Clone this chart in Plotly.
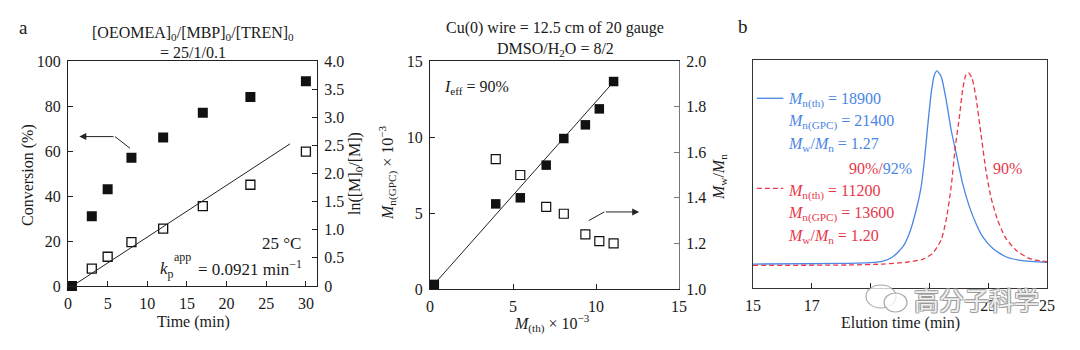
import plotly.graph_objects as go

W, H = 1080, 350
SERIF = "Liberation Serif, Times New Roman, serif"
INK = "#1a1a1a"
BLUE = "#4a86e4"
RED = "#e8384a"

# ---- (a) kinetics of the polymerisation ----
time_min = [0.5, 3, 5, 8, 12, 17, 23, 30]
conversion_pct = [0, 31, 43, 57, 66, 77, 84, 91]
ln_time_min = [3, 5, 8, 12, 17, 23, 30]
ln_m0_over_m = [0.31, 0.52, 0.78, 1.02, 1.42, 1.80, 2.39]
kp_app = 0.0921          # min^-1, slope of the first-order fit
fit_time = [1.1, 28.0]
fit_start = 0.05

# ---- (middle) molecular weight evolution ----
m_th = [0.26, 3.96, 5.44, 7.0, 8.06, 9.36, 10.2, 11.06]
mn_gpc = [0.3, 5.6, 6.0, 8.15, 9.9, 10.8, 11.85, 13.65]
pdi_m_th = [3.96, 5.44, 7.0, 8.06, 9.36, 10.2, 11.06]
pdi = [1.57, 1.50, 1.36, 1.33, 1.24, 1.21, 1.20]
mn_fit_x = [0.26, 11.06]
mn_fit_y = [0.33, 13.63]

# ---- (b) GPC traces ----
blue_t = [15.0, 18.29, 18.97, 19.42, 19.76, 20.10, 20.32, 20.55, 20.72, 20.83, 20.94,
          21.06, 21.17, 21.26, 21.40, 21.57, 21.74, 21.91, 22.13, 22.36, 22.58, 22.81,
          23.15, 23.60, 24.16, 25.0]
blue_s = [0.105, 0.108, 0.111, 0.118, 0.137, 0.181, 0.240, 0.342, 0.444, 0.561, 0.707,
          0.854, 0.934, 0.952, 0.927, 0.825, 0.693, 0.591, 0.459, 0.357, 0.284, 0.225,
          0.174, 0.137, 0.120, 0.113]
red_t = [15.0, 18.29, 19.42, 20.21, 20.77, 21.11, 21.40, 21.57, 21.74, 21.88, 22.02,
         22.13, 22.24, 22.33, 22.45, 22.58, 22.75, 22.92, 23.09, 23.32, 23.60, 23.94,
         24.39, 25.0]
red_s = [0.099, 0.101, 0.105, 0.113, 0.126, 0.152, 0.211, 0.298, 0.444, 0.617, 0.751,
         0.868, 0.934, 0.944, 0.920, 0.839, 0.679, 0.518, 0.400, 0.298, 0.218, 0.167,
         0.130, 0.115]

a_x_ticks = [0, 5, 10, 15, 20, 25, 30]
a_y_ticks = [0, 20, 40, 60, 80, 100]
a_y2_ticks = [0, 0.5, 1.0, 1.5, 2.0, 2.5, 3.0, 3.5, 4.0]
a_y2_text = ["0", "0.5", "1.0", "1.5", "2.0", "2.5", "3.0", "3.5", "4.0"]
m_ticks = [0, 5, 10, 15]
m_y2_ticks = [1.0, 1.2, 1.4, 1.6, 1.8, 2.0]
m_y2_text = ["1.0", "1.2", "1.4", "1.6", "1.8", "2.0"]
b_x_ticks = [15, 17, 19, 21, 23, 25]
b_x_text = ["15", "17", "", "", "23", "25"]   # 19 and 21 sit under the badge


def px(x):
    return x / W


def py(y):
    return 1 - y / H


fig = go.Figure()

# (a)
fig.add_trace(go.Scatter(x=time_min, y=conversion_pct, mode="markers", xaxis="x", yaxis="y",
                         marker=dict(symbol="square", size=10, color="#111"), cliponaxis=False))
fig.add_trace(go.Scatter(x=ln_time_min, y=ln_m0_over_m, mode="markers", xaxis="x", yaxis="y2",
                         marker=dict(symbol="square-open", size=9, color="#111", line=dict(width=1.3)),
                         cliponaxis=False))
fig.add_trace(go.Scatter(x=fit_time, y=[fit_start + kp_app * (t - fit_time[0]) for t in fit_time],
                         mode="lines", xaxis="x", yaxis="y2", line=dict(color="#222", width=1)))
fig.add_trace(go.Scatter(x=[7.82, 5.93], y=[61.2, 66.4], mode="lines", xaxis="x", yaxis="y",
                         line=dict(color="#222", width=1)))

# middle
fig.add_trace(go.Scatter(x=mn_fit_x, y=mn_fit_y, mode="lines", xaxis="x2", yaxis="y3",
                         line=dict(color="#222", width=1)))
fig.add_trace(go.Scatter(x=m_th, y=mn_gpc, mode="markers", xaxis="x2", yaxis="y3",
                         marker=dict(symbol="square", size=9.5, color="#111"), cliponaxis=False))
fig.add_trace(go.Scatter(x=pdi_m_th, y=pdi, mode="markers", xaxis="x2", yaxis="y4",
                         marker=dict(symbol="square-open", size=9, color="#111", line=dict(width=1.2)),
                         cliponaxis=False))
fig.add_trace(go.Scatter(x=[9.56, 10.5], y=[4.5, 5.07], mode="lines", xaxis="x2", yaxis="y3",
                         line=dict(color="#222", width=1)))

# (b)
fig.add_trace(go.Scatter(x=blue_t, y=blue_s, mode="lines", xaxis="x3", yaxis="y5",
                         line=dict(color=BLUE, width=1.3, shape="spline", smoothing=0.6)))
fig.add_trace(go.Scatter(x=red_t, y=red_s, mode="lines", xaxis="x3", yaxis="y5",
                         line=dict(color=RED, width=1.3, dash="5px,3px", shape="spline", smoothing=0.6)))

axis_base = dict(showline=True, linecolor="#222", linewidth=1, ticks="inside", ticklen=5,
                 tickcolor="#222", tickwidth=1, showgrid=False, zeroline=False,
                 tickfont=dict(family=SERIF, size=16, color=INK), fixedrange=True,
                 ticklabelstandoff=3, automargin=False)

fig.update_layout(
    width=W, height=H, margin=dict(l=0, r=0, t=0, b=0, autoexpand=False),
    paper_bgcolor="white", plot_bgcolor="white", showlegend=False,
    font=dict(family=SERIF, size=16, color=INK),
    xaxis=dict(axis_base, domain=[px(68), px(317)], anchor="y", range=[0, 31.4],
               tickvals=a_x_ticks, mirror=True),
    yaxis=dict(axis_base, domain=[py(286), py(61)], anchor="x", range=[0, 100],
               tickvals=a_y_ticks),
    yaxis2=dict(axis_base, overlaying="y", side="right", anchor="x", range=[0, 4],
                tickvals=a_y2_ticks, ticktext=a_y2_text),
    xaxis2=dict(axis_base, domain=[px(430), px(679)], anchor="y3", range=[0, 15],
                tickvals=m_ticks, mirror=True),
    yaxis3=dict(axis_base, domain=[py(289), py(61)], anchor="x2", range=[0, 15],
                tickvals=m_ticks),
    yaxis4=dict(axis_base, overlaying="y3", side="right", anchor="x2", range=[1, 2],
                tickvals=m_y2_ticks, ticktext=m_y2_text, linecolor="#777", tickcolor="#777"),
    xaxis3=dict(axis_base, domain=[px(753), px(1047)], anchor="y5", range=[15, 25],
                tickvals=b_x_ticks, ticktext=b_x_text, mirror=True, linecolor="#333"),
    yaxis5=dict(axis_base, domain=[py(288), py(60)], anchor="x3", range=[0, 1],
                showticklabels=False, ticks="", mirror=True, linecolor="#333"),
)

ann = []


def text(x, y, s, size=16, color=INK, xanchor="center", angle=0, family=SERIF, **kw):
    ann.append(dict(x=px(x), y=py(y), xref="paper", yref="paper", text=s, showarrow=False,
                    xanchor=xanchor, yanchor="middle", textangle=angle,
                    font=dict(family=family, size=size, color=color), **kw))


# panel letters
text(23, 27, "a", size=19)
text(743, 26, "b", size=19)

# (a) titles and labels
text(193, 33, "[OEOMEA]<sub>0</sub>/[MBP]<sub>0</sub>/[TREN]<sub>0</sub>")
text(193, 52, "= 25/1/0.1")
text(193, 322, "Time (min)")
text(28, 175, "Conversion (%)", angle=-90)
text(355, 174, "ln([M]<sub>0</sub>/[M])", angle=-90)
text(303, 243, "25 °C", xanchor="right", size=17)
text(158, 270, "<i>k</i><sub>p</sub>", xanchor="left", size=17)
text(172, 257, "app", xanchor="left", size=12)
text(196, 268, "= 0.0921 min<sup>−1</sup>", xanchor="left", size=17)

# middle titles and labels
text(555, 28, "Cu(0) wire = 12.5 cm of 20 gauge")
text(555, 49, "DMSO/H<sub>2</sub>O = 8/2")
text(552, 323, "<i>M</i><sub>(th)</sub> × 10<sup>−3</sup>")
text(388, 173, "<i>M</i><sub>n(GPC)</sub> × 10<sup>−3</sup>", angle=-90)
text(720, 177, "<i>M</i><sub>w</sub>/<i>M</i><sub>n</sub>", angle=-90)
text(442, 87, "<i>I</i><sub>eff</sub> = 90%", xanchor="left")

# (b) labels
text(900, 323, "Elution time (min)")
text(786, 100, "<i>M</i><sub>n(th)</sub> = 18900", xanchor="left", color=BLUE)
text(786, 122, "<i>M</i><sub>n(GPC)</sub> = 21400", xanchor="left", color=BLUE)
text(786, 144, "<i>M</i><sub>w</sub>/<i>M</i><sub>n</sub> = 1.27", xanchor="left", color=BLUE)
text(880, 168, f"<span style='color:{RED}'>90%/</span><span style='color:{BLUE}'>92%</span>")
text(1007, 168, "90%", color=RED)
text(786, 192, "<i>M</i><sub>n(th)</sub> = 11200", xanchor="left", color=RED)
text(786, 214, "<i>M</i><sub>n(GPC)</sub> = 13600", xanchor="left", color=RED)
text(786, 236, "<i>M</i><sub>w</sub>/<i>M</i><sub>n</sub> = 1.20", xanchor="left", color=RED)

# direction arrows
ann.append(dict(x=1.43, y=66.4, ax=5.93, ay=66.4, xref="x", yref="y", axref="x", ayref="y",
                text="", showarrow=True, arrowhead=2, arrowsize=1.4, arrowwidth=1,
                arrowcolor="#222", standoff=0))
ann.append(dict(x=12.6, y=5.07, ax=10.5, ay=5.07, xref="x2", yref="y3", axref="x2", ayref="y3",
                text="", showarrow=True, arrowhead=2, arrowsize=1.4, arrowwidth=1,
                arrowcolor="#222", standoff=0))

# watermark
text(976, 299, "高分子科学", size=25, family="Noto Sans CJK SC",
     color="rgba(255,255,255,0.85)")
ann[-1]["font"]["shadow"] = ("-1px -1px 0 #9a9a9a, 1px -1px 0 #9a9a9a, "
                             "-1px 1px 0 #9a9a9a, 1px 1px 0 #9a9a9a")

fig.update_layout(annotations=ann)

shapes = [
    # legend keys in (b)
    dict(type="line", xref="x3", yref="y5", x0=15.13, x1=16.03, y0=0.832, y1=0.832,
         line=dict(color=BLUE, width=1.3)),
    dict(type="line", xref="x3", yref="y5", x0=15.13, x1=16.03, y0=0.437, y1=0.437,
         line=dict(color=RED, width=1.3, dash="5px,3px")),
    # watermark badge
    dict(type="circle", xref="paper", yref="paper", x0=px(866), x1=px(896), y0=py(308), y1=py(285),
         line=dict(color="rgba(150,150,150,0.8)", width=1.2), fillcolor="rgba(255,255,255,0.75)",
         layer="above"),
    dict(type="circle", xref="paper", yref="paper", x0=px(884), x1=px(907), y0=py(312), y1=py(293),
         line=dict(color="rgba(150,150,150,0.8)", width=1.2), fillcolor="rgba(255,255,255,0.75)",
         layer="above"),
]
fig.update_layout(shapes=shapes)

fig.write_html("out.html")
